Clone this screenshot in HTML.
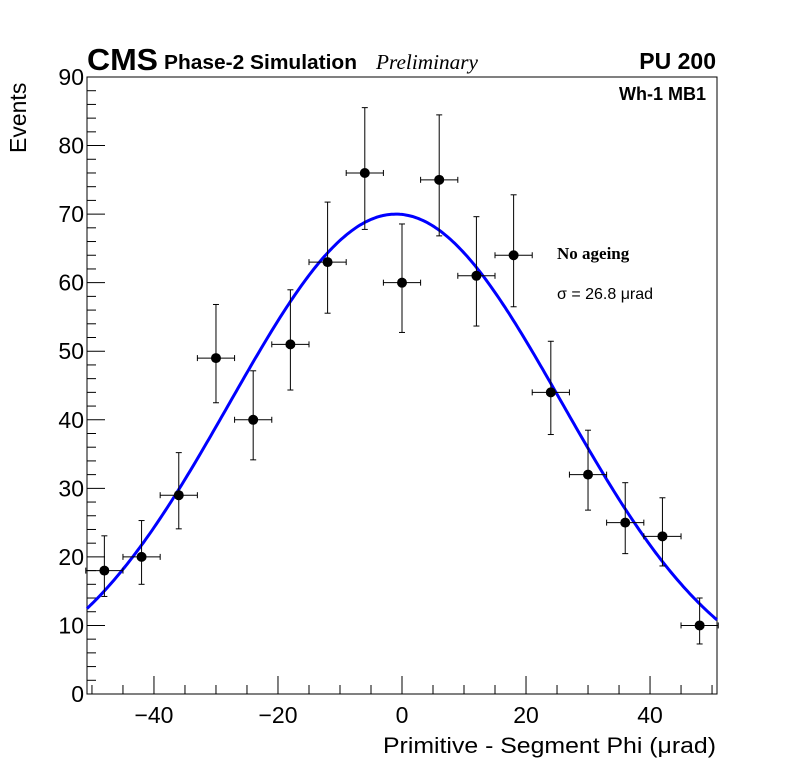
<!DOCTYPE html>
<html><head><meta charset="utf-8"><style>
body{margin:0;background:#fff}
svg{display:block;font-family:"Liberation Sans",sans-serif}
</style></head><body>
<svg id="c" width="796" height="772">
<rect x="0" y="0" width="796" height="772" fill="#fff"/>
<g id="axes"></g>
<g id="marks"></g>
<text x="87" y="70" font-size="31" font-weight="bold" textLength="71" lengthAdjust="spacingAndGlyphs">CMS</text>
<text x="164" y="69" font-size="20" font-weight="bold" textLength="193" lengthAdjust="spacingAndGlyphs">Phase-2 Simulation</text>
<text x="376" y="69" font-size="21" font-style="italic" font-family="Liberation Serif,serif" textLength="102" lengthAdjust="spacingAndGlyphs">Preliminary</text>
<text x="716" y="69" font-size="23" font-weight="bold" text-anchor="end">PU 200</text>
<text x="706" y="100" font-size="18" font-weight="bold" text-anchor="end">Wh-1 MB1</text>
<text x="557" y="259" font-size="17" font-weight="bold" font-family="Liberation Serif,serif">No ageing</text>
<text x="557" y="299" font-size="16">σ = 26.8  μrad</text>
<text x="716" y="753" font-size="22" text-anchor="end" textLength="333" lengthAdjust="spacingAndGlyphs">Primitive - Segment Phi (μrad)</text>
<text transform="translate(26,153) rotate(-90)" font-size="23">Events</text>
</svg>
<script>
const categories=[-48,-42,-36,-30,-24,-18,-12,-6,0,6,12,18,24,30,36,42,48];
const counts=[18,20,29,49,40,51,63,76,60,75,61,64,44,32,25,23,10];
const xTicks=[-40,-20,0,20,40];
const yTicks=[0,10,20,30,40,50,60,70,80,90];
const fitAmp=[70], fitMean=[-1], fitSigma=[26.8];
const binHalf=3;
const X0=87,X1=717,Y0=694,Y1=77,xmin=-50.8,xmax=50.8,ymin=0,ymax=90;
const sx=v=>X0+(v-xmin)/(xmax-xmin)*(X1-X0);
const sy=v=>Y0-(v-ymin)/(ymax-ymin)*(Y0-Y1);
const NS="http://www.w3.org/2000/svg";
function mk(t,a,p){const e=document.createElementNS(NS,t);for(const k in a)e.setAttribute(k,a[k]);p.appendChild(e);return e;}
const ax=document.getElementById('axes'),mg=document.getElementById('marks');
const fr=mk('rect',{x:X0,y:Y1,width:X1-X0,height:Y0-Y1,fill:'none',stroke:'#000','stroke-width':1},ax);


for(let v=-50;v<=50;v+=5){const maj=v%20===0;mk('line',{x1:sx(v),x2:sx(v),y1:Y0,y2:Y0-(maj?18:9),stroke:'#000'},ax);}
for(let v=0;v<=90;v+=2){const maj=v%10===0;mk('line',{x1:X0,x2:X0+(maj?18:9),y1:sy(v),y2:sy(v),stroke:'#000'},ax);}
xTicks.forEach(v=>{const t=mk('text',{x:sx(v),y:Y0+29,'font-size':23,'text-anchor':'middle'},ax);t.textContent=(v<0?'\u2212'+(-v):v);

});
yTicks.forEach(v=>{const t=mk('text',{x:X0-3,y:sy(v)+8,'font-size':23,'text-anchor':'end'},ax);t.textContent=v;

});
let d='';for(let i=0;i<=300;i++){const x=xmin+(xmax-xmin)*i/300;const y=fitAmp[0]*Math.exp(-Math.pow(x-fitMean[0],2)/(2*fitSigma[0]*fitSigma[0]));d+=(i?'L':'M')+sx(x).toFixed(1)+','+sy(y).toFixed(1);}
const fc=mk('path',{d:d,fill:'none',stroke:'#0000ff','stroke-width':3},mg);


categories.forEach((c,i)=>{const n=counts[i];const up=Math.sqrt(n+0.25)+0.5+0.3,lo=Math.sqrt(n+0.25)-0.5;
const g=mk('g',{},mg);


mk('line',{x1:sx(c),x2:sx(c),y1:sy(n+up),y2:sy(n-lo),stroke:'#000'},g);
mk('line',{x1:sx(c-binHalf),x2:sx(c+binHalf),y1:sy(n),y2:sy(n),stroke:'#000'},g);
mk('line',{x1:sx(c)-3,x2:sx(c)+3,y1:sy(n+up),y2:sy(n+up),stroke:'#000'},g);
mk('line',{x1:sx(c)-3,x2:sx(c)+3,y1:sy(n-lo),y2:sy(n-lo),stroke:'#000'},g);
mk('line',{x1:sx(c-binHalf),x2:sx(c-binHalf),y1:sy(n)-3,y2:sy(n)+3,stroke:'#000'},g);
mk('line',{x1:sx(c+binHalf),x2:sx(c+binHalf),y1:sy(n)-3,y2:sy(n)+3,stroke:'#000'},g);
mk('circle',{cx:sx(c),cy:sy(n),r:5,fill:'#000'},g);});
</script>
</body></html>
